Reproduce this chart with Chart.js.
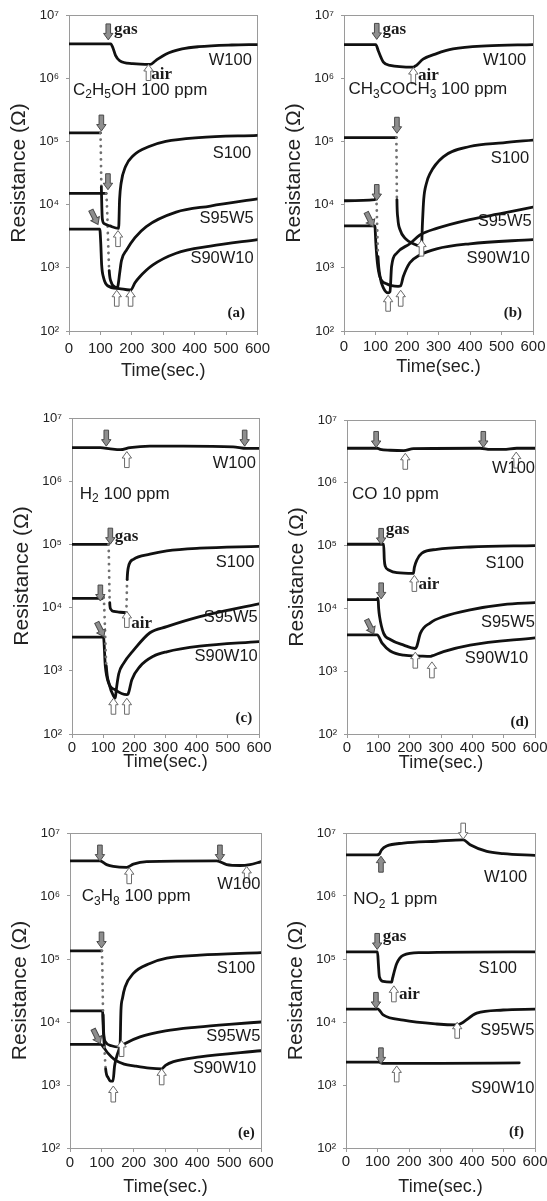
<!DOCTYPE html>
<html>
<head>
<meta charset="utf-8">
<script src="https://cdn.jsdelivr.net/npm/chart.js@4.4.1/dist/chart.umd.min.js"></script>
<style>
  html, body { margin: 0; padding: 0; background: #fff; }
  body { width: 547px; height: 1201px; position: relative; overflow: hidden; }
  canvas { position: absolute; }
</style>
</head>
<body>
<script>
// ---- data: [time (s), resistance (ohm)] ----
const Y_EXP = [2, 3, 4, 5, 6, 7];

const A_W100   = [[0,3.5e6],[133,3.5e6],[140,3.0e6],[148,2.3e6],[161,1.9e6],[203,1.7e6],[258,1.65e6],[276,1.9e6],[308,2.4e6],[360,2.9e6],[413,3.15e6],[518,3.35e6],[600,3.4e6]];
const A_S100   = [[0,1.36e5],[100,1.36e5],[103,1.9e4],[106,6e3],[112,5e3],[130,4.6e3],[158,4.2e3],[161,1.2e4],[166,2.2e4],[180,4e4],[205,6e4],[255,8.3e4],[308,1e5],[413,1.15e5],[600,1.25e5]];
const A_S95W5  = [[0,1.5e4],[118,1.5e4],[128,900],[135,580],[145,500],[154,480],[157,560],[161,800],[167,1.3e3],[183,1.9e3],[210,3e3],[246,4.5e3],[341,7.6e3],[450,9.5e3],[600,1.23e4]];
const A_S90W10 = [[0,4.1e3],[98,4.1e3],[101,2.5e3],[104,1.1e3],[110,700],[123,520],[160,470],[193,445],[198,450],[210,580],[224,710],[266,1.1e3],[341,1.7e3],[450,2.2e3],[600,2.8e3]];

const B_W100   = [[0,3.4e6],[101,3.4e6],[109,2.7e6],[125,1.8e6],[146,1.6e6],[220,1.5e6],[230,1.6e6],[251,2.0e6],[294,2.45e6],[346,2.9e6],[452,3.25e6],[600,3.4e6]];
const B_S100   = [[0,1.15e5],[166,1.15e5],[168,1.2e4],[171,6e3],[178,4e3],[195,2.9e3],[220,2.4e3],[246,2.2e3],[249,5e3],[253,1.2e4],[262,2.2e4],[273,3.1e4],[315,5.7e4],[399,8.3e4],[505,9.5e4],[600,1.05e5]];
const B_S95W5  = [[0,1.15e4],[98,1.2e4],[102,1.3e4],[108,1.5e3],[115,700],[125,480],[140,400],[146,420],[151,1.05e3],[167,1.7e3],[209,2.4e3],[241,3.3e3],[294,4.2e3],[399,5.8e3],[505,7.3e3],[600,9.1e3]];
const B_S90W10 = [[0,4.6e3],[98,4.6e3],[101,2.5e3],[106,1.2e3],[114,720],[135,560],[172,510],[180,520],[188,720],[209,1.2e3],[241,1.6e3],[294,2e3],[399,2.4e3],[600,2.8e3]];

const C_W100   = [[0,3.4e6],[91,3.4e6],[123,3.25e6],[155,3.15e6],[186,3.4e6],[250,3.6e6],[357,3.6e6],[517,3.5e6],[560,3.3e6],[600,3.3e6]];
const C_S100   = [[0,1e5],[117,1e5],[121,1.2e4],[124,9.5e3],[135,8.7e3],[150,8.5e3],[174,8.3e3],[177,2.8e4],[181,4.4e4],[197,5.8e4],[250,7e4],[304,7.9e4],[410,8.7e4],[600,9.3e4]];
const C_S95W5  = [[0,1.4e4],[96,1.4e4],[101,1.45e4],[110,1.2e3],[120,600],[133,400],[139,370],[142,500],[150,900],[165,1.3e3],[197,2.1e3],[250,4e3],[304,5e3],[410,7.2e3],[600,1.15e4]];
const C_S90W10 = [[0,3.4e3],[101,3.4e3],[107,1.17e3],[117,650],[139,500],[176,420],[180,430],[192,720],[218,1.17e3],[261,1.7e3],[304,2e3],[410,2.45e3],[600,2.9e3]];

const D_W100   = [[0,3.55e6],[96,3.55e6],[106,3.4e6],[138,3.3e6],[181,3.25e6],[212,3.5e6],[425,3.55e6],[457,3.4e6],[499,3.4e6],[542,3.55e6],[600,3.55e6]];
const D_S100   = [[0,1.05e5],[117,1.05e5],[119,6e4],[122,4.7e4],[133,4.1e4],[159,3.7e4],[212,3.6e4],[215,4.5e4],[223,5.9e4],[239,7.6e4],[287,8.7e4],[393,9.5e4],[600,1e5]];
const D_S95W5  = [[0,1.38e4],[96,1.38e4],[99,1.45e4],[101,1e4],[104,7.4e3],[117,4e3],[138,3.2e3],[181,2.6e3],[218,2.3e3],[223,2.5e3],[234,4e3],[266,5.9e3],[308,7.4e3],[393,9.5e3],[499,1.15e4],[600,1.24e4]];
const D_S90W10 = [[0,3.8e3],[96,3.8e3],[112,2.8e3],[138,2.1e3],[181,1.8e3],[234,1.74e3],[266,1.72e3],[271,1.75e3],[308,2.05e3],[393,2.6e3],[600,3.4e3]];

const E_W100   = [[0,3.6e6],[94,3.6e6],[115,3.15e6],[136,2.95e6],[178,2.85e6],[199,3.2e6],[241,3.5e6],[461,3.6e6],[492,3.15e6],[534,3.05e6],[565,3.15e6],[600,3.5e6]];
const E_S100   = [[0,1.35e5],[100,1.35e5],[104,1.3e4],[106,6.5e3],[112,4.8e3],[130,4.2e3],[157,4e3],[160,1.5e4],[165,2.4e4],[173,3.6e4],[199,5.9e4],[251,8.5e4],[304,1.03e5],[408,1.15e5],[600,1.26e5]];
const E_S95W5  = [[0,1.5e4],[102,1.5e4],[105,7e3],[108,4e3],[112,1.8e3],[120,1.3e3],[128,1.15e3],[135,1.15e3],[140,2e3],[150,3.2e3],[158,4e3],[175,4.6e3],[220,5.8e3],[300,7.2e3],[400,8.3e3],[500,9.2e3],[600,1e4]];
const E_S90W10 = [[0,4.4e3],[96,4.4e3],[108,3.8e3],[119,3.2e3],[141,2.5e3],[170,2.15e3],[204,2e3],[250,1.85e3],[288,1.8e3],[300,2.05e3],[325,2.35e3],[408,2.8e3],[600,3.5e3]];

const F_W100   = [[0,4.5e6],[97,4.5e6],[105,4.6e6],[113,5.4e6],[129,6.2e6],[182,6.9e6],[288,7.4e6],[372,7.8e6],[394,6.5e6],[447,5.1e6],[499,4.7e6],[600,4.4e6]];
const F_S100   = [[0,1.3e5],[100,1.3e5],[103,8e4],[106,5.2e4],[118,4.4e4],[145,4.3e4],[148,5e4],[161,8.5e4],[182,1.15e5],[235,1.26e5],[600,1.3e5]];
const F_S95W5  = [[0,1.6e4],[95,1.6e4],[100,1.62e4],[118,1.3e4],[182,1.07e4],[288,9.3e3],[351,9e3],[362,9.3e3],[415,1.38e4],[499,1.55e4],[600,1.6e4]];
const F_S90W10 = [[0,2.3e3],[105,2.3e3],[115,2.2e3],[300,2.2e3],[550,2.25e3]];

// arrows: g = gas (grey, down), w = air (white, up), t = gas tilted,
// G = gas pointing up, W = air pointing down; [kind, time, resistance]
const ARW_A = [['g',125,5.4e6],['w',253,1.23e6],['g',103,1.95e5],['g',124,2.3e4],['t',81,6.3e3],['w',156,2.9e3],['w',152,330],['w',196,330]];
const ARW_B = [['g',104,5.5e6],['w',220,1.1e6],['g',168,1.8e5],['g',104,1.55e4],['t',82,5.8e3],['w',246,2.05e3],['w',140,275],['w',180,330]];
const ARW_C = [['g',110,4.8e6],['g',554,4.8e6],['w',176,2.2e6],['g',123,1.35e5],['g',91,1.7e4],['t',91,4.5e3],['w',176,6.5e3],['w',133,275],['w',176,275]];
const ARW_D = [['g',93,4.9e6],['g',435,4.9e6],['w',186,2.2e6],['w',540,2.3e6],['g',109,1.4e5],['w',215,2.5e4],['g',109,1.9e4],['t',74,5.1e3],['w',218,1.5e3],['w',271,1.05e3]];
const ARW_E = [['g',94,4.8e6],['g',471,4.8e6],['w',186,2.1e6],['w',555,2.2e6],['g',99,2e5],['t',84,5.9e3],['w',162,3.8e3],['w',136,720],['w',288,1.35e3]];
const ARW_F = [['G',111,3.2e6],['W',372,1.07e7],['g',99,1.9e5],['w',152,2.8e4],['g',95,2.2e4],['w',353,7.4e3],['g',111,2.9e3],['w',161,1.5e3]];

// text notes: [text, time, resistance, kind]  (_x = subscript)
const TXT_A = [['gas',143,5.8e6,'ga'],['air',262,1.12e6,'ga'],['W100',582,1.94e6,'nm'],['C_2H_5OH 100 ppm',13,6.5e5,'gn'],['S100',580,6.5e4,'nm'],['S95W5',588,6e3,'nm'],['S90W10',588,1.4e3,'nm'],['(a)',560,190,'tag']];
const TXT_B = [['gas',122,5.8e6,'ga'],['air',235,1.1e6,'ga'],['W100',578,1.94e6,'nm'],['CH_3COCH_3 100 ppm',14,6.6e5,'gn'],['S100',588,5.4e4,'nm'],['S95W5',596,5.4e3,'nm'],['S90W10',590,1.4e3,'nm'],['(b)',565,190,'tag']];
const TXT_C = [['W100',590,1.9e6,'nm'],['H_2 100 ppm',25,6.3e5,'gn'],['gas',137,1.35e5,'ga'],['air',190,5.6e3,'ga'],['S100',585,5.1e4,'nm'],['S95W5',596,6.9e3,'nm'],['S90W10',596,1.7e3,'nm'],['(c)',578,178,'tag']];
const TXT_D = [['W100',600,1.7e6,'nm'],['CO 10 ppm',16,6.6e5,'gn'],['gas',124,1.8e5,'ga'],['air',228,2.4e4,'ga'],['S100',565,5.2e4,'nm'],['S95W5',600,6e3,'nm'],['S90W10',578,1.6e3,'nm'],['(d)',580,155,'tag']];
const TXT_E = [['W100',598,1.5e6,'nm'],['C_3H_8 100 ppm',37,9.8e5,'gn'],['S100',582,7.1e4,'nm'],['S95W5',598,5.8e3,'nm'],['S90W10',585,1.8e3,'nm'],['(e)',580,170,'tag']];
const TXT_F = [['W100',575,2.0e6,'nm'],['NO_2 1 ppm',23,8.7e5,'gn'],['gas',117,2.3e5,'ga'],['air',168,2.7e4,'ga'],['S100',543,7.1e4,'nm'],['S95W5',598,7.4e3,'nm'],['S90W10',598,870,'nm'],['(f)',565,178,'tag']];

// segments drawn as sparse dots (fast transients), keyed by start time
const DOTTED = {
  a_S100: [100], a_S95W5: [118], b_S100: [166], b_S95W5: [102],
  c_S100: [117, 174], c_S95W5: [101], e_S100: [100], e_S95W5: [108]
};

const PANELS = [
  { id: 'a', curves: { W100: A_W100, S100: A_S100, S95W5: A_S95W5, S90W10: A_S90W10 }, arrows: ARW_A, notes: TXT_A },
  { id: 'b', curves: { W100: B_W100, S100: B_S100, S95W5: B_S95W5, S90W10: B_S90W10 }, arrows: ARW_B, notes: TXT_B },
  { id: 'c', curves: { W100: C_W100, S100: C_S100, S95W5: C_S95W5, S90W10: C_S90W10 }, arrows: ARW_C, notes: TXT_C },
  { id: 'd', curves: { W100: D_W100, S100: D_S100, S95W5: D_S95W5, S90W10: D_S90W10 }, arrows: ARW_D, notes: TXT_D },
  { id: 'e', curves: { W100: E_W100, S100: E_S100, S95W5: E_S95W5, S90W10: E_S90W10 }, arrows: ARW_E, notes: TXT_E },
  { id: 'f', curves: { W100: F_W100, S100: F_S100, S95W5: F_S95W5, S90W10: F_S90W10 }, arrows: ARW_F, notes: TXT_F }
];

// ---- layout (page pixels): plot box [left, top, right, bottom] ----
const BOX = { a: [69,15,259,331], b: [344,15,533,331], c: [72,418,259,734], d: [347,420,535,734], e: [70,833,261,1148], f: [346,833,535,1148] };
const TICK_OFF = { a: 18, b: 16, c: 14, d: 14, e: 15, f: 14 };   // x tick label centre below axis
const TITLE_GAP = { a: 40, b: 36, c: 28, d: 29, e: 39, f: 39 };  // x title centre below axis
const Y_AXIS_W = 69, PAD_T = 15, PAD_R = 16, X_AXIS_H = 52;

const SANS = '"Liberation Sans", Arial, Helvetica, sans-serif';
const SERIF = '"Liberation Serif", "Times New Roman", serif';
const SUP = { 2: '\u00b2', 3: '\u00b3', 4: '\u2074', 5: '\u2075', 6: '\u2076', 7: '\u2077' };

Chart.defaults.font.family = SANS;
Chart.defaults.color = '#222';

function drawArrow(ctx, px, py, k) {
  const grey = k === 'g' || k === 'G' || k === 't';
  let rot = 0;
  if (k === 'w' || k === 'G') rot = Math.PI;
  if (k === 't') rot = -0.46;
  const pts = [[-2.3,-8],[2.3,-8],[2.3,1.5],[4.7,1.5],[0,8],[-4.7,1.5],[-2.3,1.5]];
  ctx.save();
  ctx.translate(px, py);
  ctx.rotate(rot);
  ctx.beginPath();
  pts.forEach(([x, y], i) => i ? ctx.lineTo(x, y) : ctx.moveTo(x, y));
  ctx.closePath();
  ctx.fillStyle = grey ? '#8e8e8e' : '#ffffff';
  ctx.fill();
  ctx.lineWidth = 1;
  ctx.strokeStyle = grey ? '#4a4a4a' : '#6a6a6a';
  ctx.stroke();
  ctx.restore();
}

// text with "_d" subscripts
function drawRich(ctx, s, px, py, size, align) {
  const runs = [];
  for (let i = 0; i < s.length; i++) {
    if (s[i] === '_' && i + 1 < s.length) { runs.push([s[i + 1], true]); i++; }
    else if (runs.length && !runs[runs.length - 1][1]) runs[runs.length - 1][0] += s[i];
    else runs.push([s[i], false]);
  }
  const fMain = size + 'px ' + SANS, fSub = Math.round(size * 0.7) + 'px ' + SANS;
  let w = 0;
  runs.forEach(([t, sub]) => { ctx.font = sub ? fSub : fMain; w += ctx.measureText(t).width; });
  let x = align === 'right' ? px - w : px;
  ctx.textAlign = 'left';
  ctx.textBaseline = 'middle';
  runs.forEach(([t, sub]) => {
    ctx.font = sub ? fSub : fMain;
    ctx.fillText(t, x, sub ? py + size * 0.3 : py);
    x += ctx.measureText(t).width;
  });
}

function drawNote(ctx, s, px, py, kind) {
  ctx.fillStyle = '#1a1a1a';
  if (kind === 'nm') drawRich(ctx, s, px, py, 16.5, 'right');
  else if (kind === 'gn') drawRich(ctx, s, px, py, 17, 'left');
  else {
    ctx.font = (kind === 'ga' ? 'bold 17px ' : 'bold 15px ') + SERIF;
    ctx.textAlign = kind === 'ga' ? 'left' : 'right';
    ctx.textBaseline = 'middle';
    ctx.fillText(s, px, py);
  }
}

function notesPlugin(p) {
  return {
    id: 'notes' + p.id,
    beforeDatasetsDraw(chart) {
      const { ctx, chartArea: a } = chart;
      ctx.save();
      ctx.strokeStyle = '#9a9a9a';
      ctx.lineWidth = 1;
      ctx.strokeRect(Math.round(a.left) + 0.5, Math.round(a.top) + 0.5, Math.round(a.right - a.left), Math.round(a.bottom - a.top));
      ctx.restore();
    },
    afterDatasetsDraw(chart) {
      const { ctx, scales: { x, y } } = chart;
      ctx.save();
      p.arrows.forEach(([k, t, r]) => drawArrow(ctx, x.getPixelForValue(t), y.getPixelForValue(r), k));
      p.notes.forEach(([s, t, r, kind]) => drawNote(ctx, s, x.getPixelForValue(t), y.getPixelForValue(r), kind));
      ctx.restore();
    }
  };
}

PANELS.forEach(p => {
  const [L, T, R, B] = BOX[p.id];
  const cv = document.createElement('canvas');
  const w = R - L + Y_AXIS_W + PAD_R, h = B - T + PAD_T + X_AXIS_H;
  cv.width = w; cv.height = h;
  cv.style.width = w + 'px'; cv.style.height = h + 'px';
  cv.style.left = (L - Y_AXIS_W) + 'px'; cv.style.top = (T - PAD_T) + 'px';
  document.body.appendChild(cv);

  const datasets = Object.entries(p.curves).map(([name, pts]) => {
    const dots = DOTTED[p.id + '_' + name] || [];
    const isDot = c => dots.includes(c.p0.parsed.x);
    return {
      label: name,
      data: pts.map(([x, y]) => ({ x, y })),
      borderColor: '#111',
      borderWidth: 2.8,
      pointRadius: 0,
      fill: false,
      cubicInterpolationMode: 'monotone',
      borderCapStyle: 'round',
      borderJoinStyle: 'round',
      segment: {
        borderDash: c => isDot(c) ? [0.1, 6.5] : undefined,
        borderColor: c => isDot(c) ? '#707070' : undefined
      }
    };
  });

  new Chart(cv, {
    type: 'line',
    data: { datasets },
    options: {
      responsive: false,
      animation: false,
      events: [],
      layout: { padding: { left: 0, top: PAD_T, right: PAD_R, bottom: 0 } },
      plugins: { legend: { display: false }, tooltip: { enabled: false } },
      scales: {
        x: {
          type: 'linear', min: 0, max: 600,
          afterFit: s => { s.height = X_AXIS_H; },
          ticks: { stepSize: 100, autoSkip: false, maxRotation: 0, padding: TICK_OFF[p.id] - 13, font: { size: 15 }, color: '#222' },
          grid: { drawOnChartArea: false, drawTicks: true, tickLength: 4, color: '#9a9a9a' },
          border: { display: false },
          title: { display: true, text: 'Time(sec.)', font: { size: 18 }, color: '#222', padding: { top: 0, bottom: X_AXIS_H - TITLE_GAP[p.id] - 10.8 } }
        },
        y: {
          type: 'logarithmic', min: 100, max: 1e7,
          afterBuildTicks: s => { s.ticks = Y_EXP.map(e => ({ value: Math.pow(10, e) })); },
          afterFit: s => { s.width = Y_AXIS_W; },
          ticks: { callback: v => '10' + SUP[Math.round(Math.log10(v))], padding: 7, font: { size: 13 }, color: '#222' },
          grid: { drawOnChartArea: false, drawTicks: true, tickLength: 3, color: '#9a9a9a' },
          border: { display: false },
          title: { display: true, text: 'Resistance (\u03a9)', font: { size: 21 }, color: '#222', padding: { top: 7, bottom: 0 } }
        }
      }
    },
    plugins: [notesPlugin(p)]
  });
});
</script>
</body>
</html>
